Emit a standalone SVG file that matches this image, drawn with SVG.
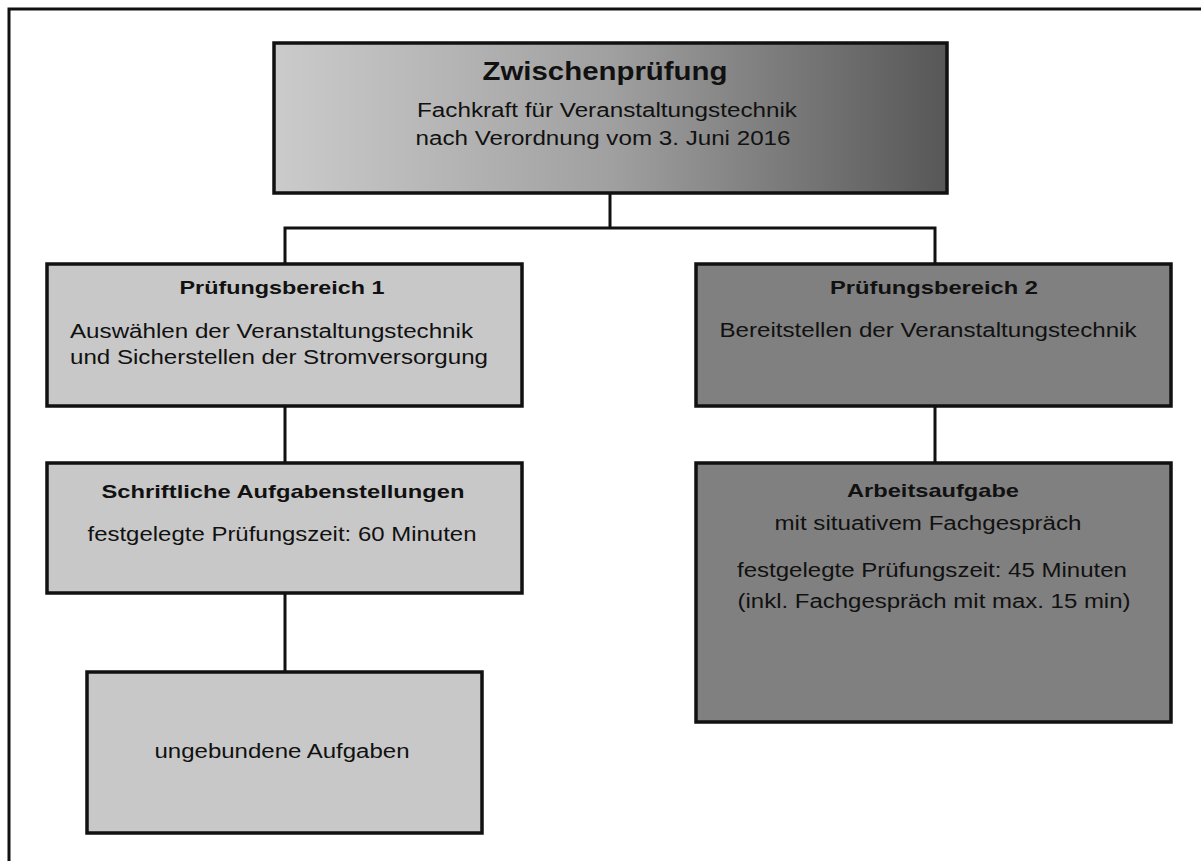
<svg xmlns="http://www.w3.org/2000/svg" width="1201" height="861" viewBox="0 0 1201 861">
<defs>
<linearGradient id="topGrad" x1="0" y1="0" x2="1" y2="0">
<stop offset="0" stop-color="#cbcbcb"/>
<stop offset="0.5" stop-color="#a0a0a0"/>
<stop offset="1" stop-color="#575757"/>
</linearGradient>
<style>
.box{stroke:#111;stroke-width:3.5}
.light{fill:#c8c8c8}
.dark{fill:#808080}
.conn{fill:none;stroke:#111;stroke-width:3}
text{font-family:"Liberation Sans",Arial,sans-serif;fill:#111;font-size:19.5px}
.b{font-weight:bold;font-size:19px}
.m{text-anchor:middle}
</style>
</defs>
<rect width="1201" height="861" fill="#fff"/>
<path d="M9,861 V9 H1201" fill="none" stroke="#111" stroke-width="3"/>
<g id="connectors">
<path class="conn" d="M610,193 V228 M285,228 H935 M285,226.5 V263 M935,226.5 V263"/>
<path class="conn" d="M285,406 V462 M285,593 V672 M935,406 V462"/>
</g>
<g id="top">
<rect class="box" x="274" y="43" width="673" height="150" fill="url(#topGrad)"/>
<text class="b m" x="605" y="80" style="font-size:25px" textLength="245" lengthAdjust="spacingAndGlyphs">Zwischenprüfung</text>
<text class="m" x="607" y="117" textLength="380" lengthAdjust="spacingAndGlyphs">Fachkraft für Veranstaltungstechnik</text>
<text class="m" x="603" y="145" textLength="375" lengthAdjust="spacingAndGlyphs">nach Verordnung vom 3. Juni 2016</text>
</g>
<g id="pb1">
<rect class="box light" x="47" y="264" width="475" height="142"/>
<text class="b m" x="282" y="294" textLength="205" lengthAdjust="spacingAndGlyphs">Prüfungsbereich 1</text>
<text x="70" y="338" textLength="403" lengthAdjust="spacingAndGlyphs">Auswählen der Veranstaltungstechnik</text>
<text x="70" y="364" textLength="418" lengthAdjust="spacingAndGlyphs">und Sicherstellen der Stromversorgung</text>
</g>
<g id="pb2">
<rect class="box dark" x="696" y="264" width="475" height="142"/>
<text class="b m" x="934" y="294" textLength="208" lengthAdjust="spacingAndGlyphs">Prüfungsbereich 2</text>
<text class="m" x="928" y="337" textLength="417" lengthAdjust="spacingAndGlyphs">Bereitstellen der Veranstaltungstechnik</text>
</g>
<g id="schriftlich">
<rect class="box light" x="47" y="463" width="475" height="130"/>
<text class="b m" x="283" y="498" textLength="363" lengthAdjust="spacingAndGlyphs">Schriftliche Aufgabenstellungen</text>
<text class="m" x="282" y="541" textLength="389" lengthAdjust="spacingAndGlyphs">festgelegte Prüfungszeit: 60 Minuten</text>
</g>
<g id="ungebunden">
<rect class="box light" x="87" y="672" width="395" height="161"/>
<text class="m" x="282" y="758" textLength="255" lengthAdjust="spacingAndGlyphs">ungebundene Aufgaben</text>
</g>
<g id="arbeitsaufgabe">
<rect class="box dark" x="696" y="463" width="475" height="259"/>
<text class="b m" x="933" y="497" textLength="172" lengthAdjust="spacingAndGlyphs">Arbeitsaufgabe</text>
<text class="m" x="928" y="530" textLength="307" lengthAdjust="spacingAndGlyphs">mit situativem Fachgespräch</text>
<text class="m" x="932" y="577" textLength="390" lengthAdjust="spacingAndGlyphs">festgelegte Prüfungszeit: 45 Minuten</text>
<text class="m" x="934" y="608" textLength="393" lengthAdjust="spacingAndGlyphs">(inkl. Fachgespräch mit max. 15 min)</text>
</g>
</svg>
